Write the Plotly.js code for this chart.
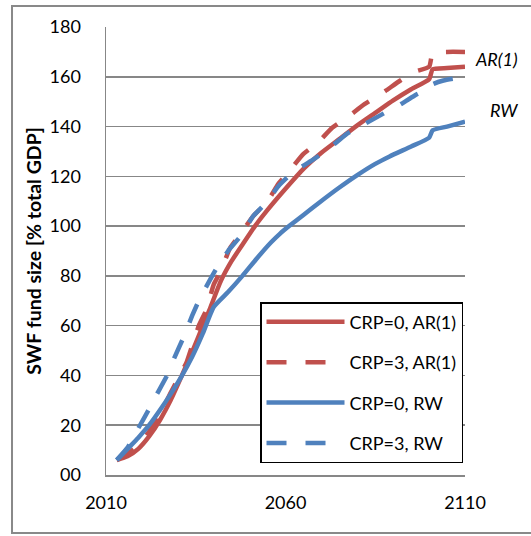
<!DOCTYPE html>
<html><head><meta charset="utf-8">
<script src="https://cdn.plot.ly/plotly-3.0.1.min.js"></script>
<style>html,body{margin:0;padding:0;background:#fff;} #chart{width:531px;height:536px;}</style>
</head><body><div id="chart"></div>
<script>
const seriesNames = ['CRP=0, AR(1)', 'CRP=3, AR(1)', 'CRP=0, RW', 'CRP=3, RW'];

const yearsCrp0AR1 = [2013,2016,2019,2022,2025,2028,2031,2034,2037,2039,2042,2045,2048,2051.5,2055,2060,2065,2070,2075,2080,2085,2090,2095,2100,2101,2105,2110];
const crp0AR1 =      [6,   7.5, 10.5,15.5,22,  30,  39.5,49.5,60,  67,  78,  86,  92.5,100, 106.5,115, 123, 129.5,135, 140.5,145.5,150.5,155, 159, 163, 163.5,164];

const yearsCrp3AR1 = [2013,2016,2019,2022,2025,2028,2030,2032.5,2034,2036,2038,2040,2042,2044.5,2047.3,2051,2055,2058,2061,2065,2069,2073,2077.5,2082,2087,2092,2096,2100,2101,2105,2110];
const crp3AR1 =      [6,   8.5, 12,  17.5,24.5,33,  38.5,45.5,  52,  60.5,66.5,76.5,82,  91,    96.5,  104, 110, 117, 122, 129, 133.5,139.5,144,  149, 153.5,158.5,162, 164, 169.5,170, 170];

const yearsCrp0RW = [2013,2016,2019,2022,2025,2028,2031,2034,2037,2040,2044,2048,2052,2056,2058.5,2061,2065,2069,2075,2080,2085,2089,2095,2100,2101,2105,2110];
const crp0RW =      [6,   10.5,15,  20,  26,  32.5,39.5,47.5,57,  67.5,73.5,80,  87,  93.5,97,    100, 104.5,109, 115.5,120.5,125, 128, 132, 135.5,138.5,140, 142];

const yearsCrp3RW = [2013,2016,2018.5,2022,2024,2027,2029,2031.5,2034,2036,2039,2041,2044,2047.5,2051,2055,2058,2062,2068,2072,2077,2082,2087,2091,2096,2100,2101,2104,2110];
const crp3RW =      [6,   11,  17.5,  26.5,32,  40,  47,  55,    64,  70.5,78.5,83.5,90,  96,    104, 110, 116, 121.5,127,131, 137, 141, 145, 148, 152.5,155.5,157,158.5,160];

const yTickVals = [0,20,40,60,80,100,120,140,160,180];
const yTickText = ['00','20','40','60','80','100','120','140','160','180'];
const xTickVals = [2010,2060,2110];
const xTickText = ['2010','2060','2110'];
const endLabels = ['AR(1)', 'RW'];

const red = '#C0504D', blue = '#4F81BD';
const FONT = 'Lato, Carlito, "Liberation Sans", sans-serif';
const dashPat = '20px,19px';

function tr(x, y, name, color, dash, g) {
  return {x: x, y: y, name: name, type: 'scatter', mode: 'lines',
    line: {color: color, width: 4.5, dash: dash, shape: 'spline', smoothing: 0.5}, legendgroup: g, hoverinfo: 'skip'};
}
const data = [
  tr(yearsCrp0AR1, crp0AR1, seriesNames[0], red, 'solid', 'g1'),
  tr(yearsCrp3AR1, crp3AR1, seriesNames[1], red, dashPat, 'g2'),
  tr(yearsCrp0RW, crp0RW, seriesNames[2], blue, 'solid', 'g3'),
  tr(yearsCrp3RW, crp3RW, seriesNames[3], blue, dashPat, 'g4')
];

const gridCol = '#878787';
const layout = {
  width: 531, height: 536,
  margin: {l: 106, r: 66, t: 27, b: 61},
  paper_bgcolor: '#fff', plot_bgcolor: '#fff',
  font: {family: FONT, size: 18, color: '#000'},
  showlegend: true,
  xaxis: {range: [2010, 2110], tickvals: xTickVals, ticktext: xTickText,
    showgrid: false, zeroline: false, showline: true, linecolor: gridCol, linewidth: 1.5,
    ticks: '', ticklabelstandoff: 11, tickfont: {family: FONT, size: 18, color: '#000'}, fixedrange: true},
  yaxis: {range: [0, 180], tickvals: yTickVals, ticktext: yTickText,
    showgrid: true, gridcolor: gridCol, gridwidth: 1.5, zeroline: false,
    showline: true, linecolor: gridCol, linewidth: 1.5,
    ticks: '', ticklabelstandoff: 20, tickfont: {family: FONT, size: 18, color: '#000'},
    title: {text: 'SWF fund size [% total GDP]', font: {family: FONT, size: 19.5, color: '#000', weight: 'bold'}, standoff: 2},
    fixedrange: true},
  legend: {x: 0.429, y: 0.386, xanchor: 'left', yanchor: 'top',
    bgcolor: '#fff', bordercolor: '#000', borderwidth: 1.5,
    font: {family: FONT, size: 18, color: '#000'}, itemwidth: 78, tracegroupgap: 14},
  shapes: [{type: 'rect', xref: 'paper', yref: 'paper', x0: -0.2618, x1: 1.3, y0: -0.1295, y1: 1.0469,
    line: {color: '#898989', width: 2}, layer: 'below'}],
  annotations: [
    {xref: 'paper', yref: 'paper', x: 1.153, y: 0.9286, xanchor: 'right', yanchor: 'middle', showarrow: false,
     text: endLabels[0], font: {family: FONT, size: 18, color: '#000', style: 'italic'}},
    {xref: 'paper', yref: 'paper', x: 1.153, y: 0.8147, xanchor: 'right', yanchor: 'middle', showarrow: false,
     text: endLabels[1], font: {family: FONT, size: 18, color: '#000', style: 'italic'}}
  ]
};
Plotly.newPlot('chart', data, layout, {displayModeBar: false, staticPlot: true});
</script></body></html>
